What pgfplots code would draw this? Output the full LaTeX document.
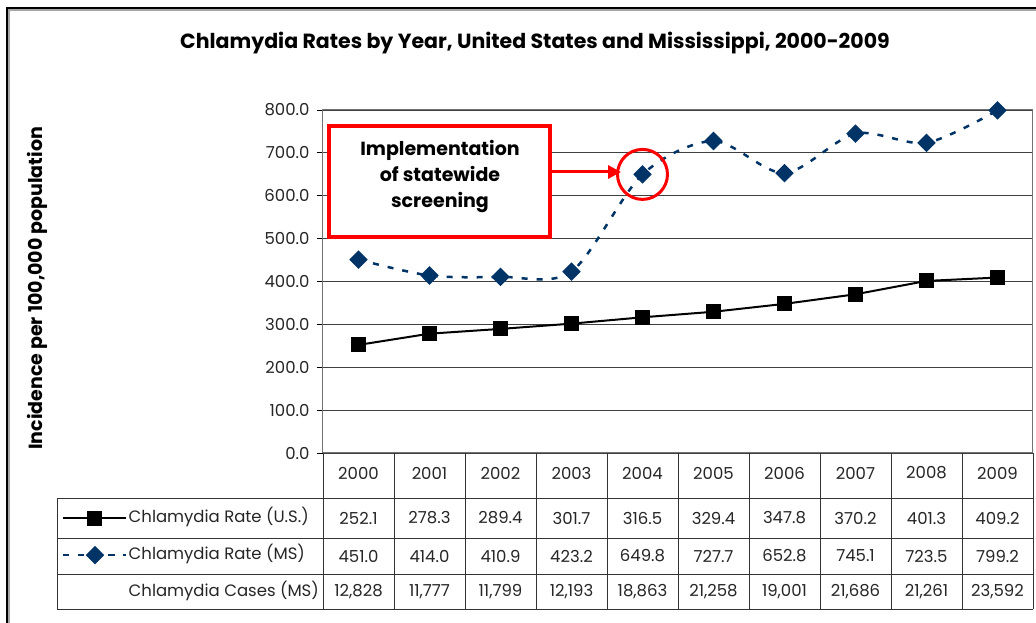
\documentclass[border=0pt]{standalone}
\usepackage{fontspec}
\setmainfont{Poppins}
\usepackage{pgfplots}
\pgfplotsset{compat=1.18}
\usetikzlibrary{arrows.meta}
\definecolor{navy}{RGB}{0,51,102}
\definecolor{callred}{RGB}{255,0,0}
\begin{document}
\begin{tikzpicture}[x=1pt,y=1pt]
\useasboundingbox (0,0) rectangle (1036,623);
\fill[white] (0,0) rectangle (1036,623);
\draw[black!35, line width=1.5pt] (9,0) -- (9,613) -- (1036,613);
\draw[black, line width=1.2pt] (7,0) -- (7,615) -- (1036,615);
\node[font=\fontsize{20.5}{24}\selectfont\bfseries] at (535,580) {Chlamydia Rates by Year, United States and Mississippi, 2000-2009};
\begin{axis}[
  at={(323pt,170pt)}, anchor=south west,
  scale only axis, width=710pt, height=343pt,
  xmin=-0.5, xmax=9.5, ymin=0, ymax=800,
  clip=false,
  xtick={0,...,9},
  xticklabels={2000,2001,2002,2003,2004,2005,2006,2007,2008,2009},
  xtick style={draw=none},
  xticklabel style={anchor=center, yshift=-14pt},
  ytick={0,100,...,800},
  ytick pos=left, tick align=outside, major tick length=6pt,
  ytick style={black, line width=0.8pt},
  yticklabel style={xshift=-4pt, /pgf/number format/.cd, fixed, fixed zerofill, precision=1, assume math mode=true},
  tick label style={font=\fontsize{16.5}{19}\selectfont, text=black!85},
  ymajorgrids, grid style={black!75, line width=0.8pt},
  axis line style={black!55, line width=1pt},
  ylabel={Incidence per 100,000 population},
  ylabel style={font=\fontsize{19}{22}\selectfont\bfseries, at={(axis description cs:-0.402,0.48)}, anchor=center},
  legend cell align=left,
  legend style={at={(axis description cs:-0.3676,-0.166)}, anchor=north west, draw=none, fill=none, inner sep=0pt,
    row sep=21pt, font=\fontsize{16.5}{19}\selectfont,
    nodes={inner sep=1pt, text height=11pt, text depth=3pt, text=black!85},
    /tikz/every even column/.append style={column sep=0pt}},
  legend image code/.code={\draw[mark repeat=2,mark phase=2,#1] plot coordinates {(0pt,0pt) (31.5pt,0pt) (63pt,0pt)};},
]
\addplot[black, line width=2pt, mark=square*, mark size=6.5pt, mark options={solid}]
  coordinates {(0,252.1) (1,278.3) (2,289.4) (3,301.7) (4,316.5) (5,329.4) (6,347.8) (7,370.2) (8,401.3) (9,409.2)};
\addlegendentry{Chlamydia Rate (U.S.)}
\addplot[navy, line width=2.5pt, dash pattern=on 6pt off 9pt, smooth, tension=0.5, mark=diamond*, mark size=7.5pt, mark options={solid, xscale=1.33}]
  coordinates {(0,451.0) (1,414.0) (2,410.9) (3,423.2) (4,649.8) (5,727.7) (6,652.8) (7,745.1) (8,723.5) (9,799.2)};
\addlegendentry{Chlamydia Rate (MS)}
\addlegendimage{empty legend}
\addlegendentry{Chlamydia Cases (MS)}
\draw[callred, line width=3pt] (axis cs:4,649.8) circle[radius=25pt];
\end{axis}
% callout
\draw[callred, line width=3.5pt, fill=white] (329,497) rectangle (550,386);
\node[align=center, font=\fontsize{19}{26}\selectfont\bfseries] at (440,446) {Implementation\\of statewide\\screening};
\draw[callred, line width=3pt, -{Triangle[length=13pt,width=13pt]}] (550,451) -- (621,451);
% table lines
\foreach \k in {0,...,10} {\draw[black!80, line width=0.9pt] (323+71*\k,170) -- (323+71*\k,14);}
\draw[black!80, line width=0.9pt] (57,125) -- (1033,125);
\draw[black!80, line width=0.9pt] (57,85) -- (1033,85);
\draw[black!80, line width=0.9pt] (57,49) -- (1033,49);
\draw[black!80, line width=0.9pt] (57,14) -- (1033,14);
\draw[black!80, line width=0.9pt] (57,125) -- (57,14);
% table values
\foreach \v [count=\i from 0] in {252.1,278.3,289.4,301.7,316.5,329.4,347.8,370.2,401.3,409.2}
  {\node[font=\fontsize{16.5}{19}\selectfont, text=black!85] at (358.5+71*\i,105) {\v};}
\foreach \v [count=\i from 0] in {451.0,414.0,410.9,423.2,649.8,727.7,652.8,745.1,723.5,799.2}
  {\node[font=\fontsize{16.5}{19}\selectfont, text=black!85] at (358.5+71*\i,67) {\v};}
\foreach \v [count=\i from 0] in {{12,828},{11,777},{11,799},{12,193},{18,863},{21,258},{19,001},{21,686},{21,261},{23,592}}
  {\node[font=\fontsize{16.5}{19}\selectfont, text=black!85] at (358.5+71*\i,31) {\v};}
\end{tikzpicture}
\end{document}
